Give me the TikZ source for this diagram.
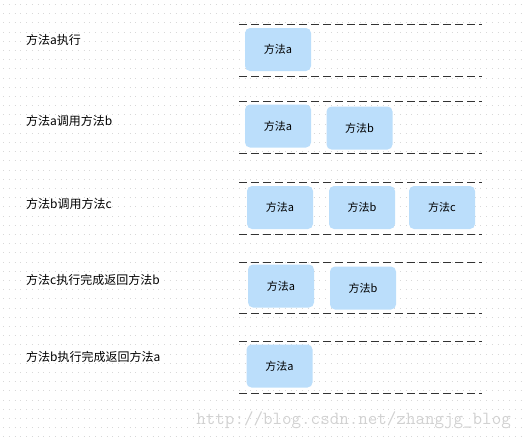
\documentclass[tikz,border=0pt]{standalone}
\usepackage{fontspec}
\usepackage{xcolor}
\newfontfamily\cjk{Noto Sans CJK SC}
\definecolor{boxblue}{HTML}{BBDEFB}
\definecolor{griddot}{HTML}{D8D8D8}
\definecolor{rowline}{HTML}{333333}

\begin{document}
\begin{tikzpicture}[x=1pt,y=-1pt,
  frame/.style={boxblue,fill=boxblue,rounded corners=5pt,minimum width=66pt,minimum height=43pt,
    text=black,font=\cjk\fontsize{11}{11}\selectfont,inner sep=0pt},
  steptext/.style={anchor=west,font=\cjk\fontsize{12}{12}\selectfont,inner sep=0pt},
  rowedge/.style={rowline,line width=1pt,dash pattern=on 7.5pt off 4.5pt}]
  \useasboundingbox (0,0) rectangle (526,439);
  % dotted background
  \foreach \r in {0,...,47}
    \draw[griddot,line width=1pt,dash pattern=on 1pt off 4.75pt] (3,4.5+9.2*\r) -- (526,4.5+9.2*\r);
  % row edges
  \foreach \t/\b in {24/76,101/153,182/234,262/313,341/393} {
    \draw[rowedge] (239,\t) -- (482,\t);
    \draw[rowedge] (239,\b) -- (482,\b);
  }
  % steps
  \node[steptext] (s1) at (26,40) {方法a执行};
  \node[steptext] (s2) at (26,121) {方法a调用方法b};
  \node[steptext] (s3) at (26,204) {方法b调用方法c};
  \node[steptext] (s4) at (26,280) {方法c执行完成返回方法b};
  \node[steptext] (s5) at (26,357) {方法b执行完成返回方法a};
  % stack frames
  \node[frame] (a1) at (278,49.5) {方法a};
  \node[frame] (a2) at (278,126) {方法a};
  \node[frame] (b2) at (359.5,128) {方法b};
  \node[frame] (a3) at (280,207.5) {方法a};
  \node[frame] (b3) at (362,207.5) {方法b};
  \node[frame] (c3) at (442,207.5) {方法c};
  \node[frame] (a4) at (281,286) {方法a};
  \node[frame] (b4) at (363,288) {方法b};
  \node[frame] (a5) at (279.5,366) {方法a};
  % watermark
  \node[anchor=east,text=black!18,font=\ttfamily\fontsize{18.5}{18.5}\selectfont,inner sep=0pt] (wm) at (511,420) {http://blog.csdn.net/zhangjg\_blog};
\end{tikzpicture}
\end{document}
